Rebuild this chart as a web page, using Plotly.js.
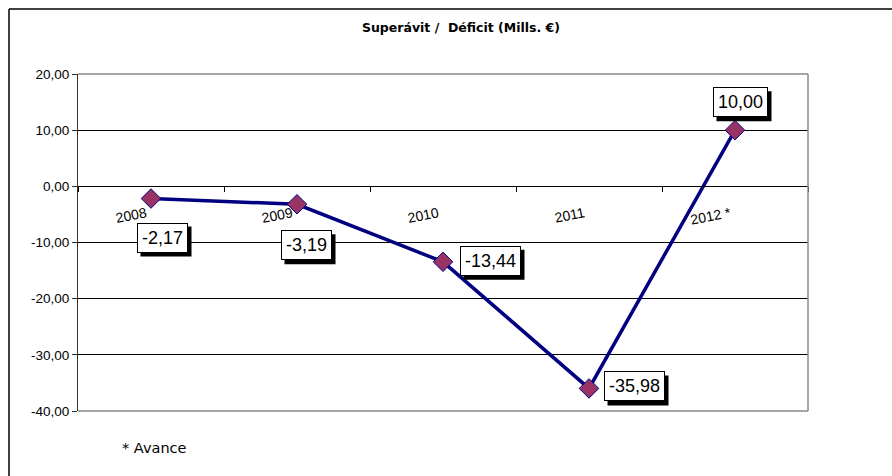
<!DOCTYPE html>
<html>
<head>
<meta charset="utf-8">
<script src="https://cdn.plot.ly/plotly-3.0.1.min.js"></script>
<style>html,body{margin:0;padding:0;background:#fff;}#chart{width:892px;height:476px;}</style>
</head>
<body>
<div id="chart"></div>
<script>
// ---- data ----
const years = ['2008', '2009', '2010', '2011', '2012 *'];
const balance = [-2.17, -3.19, -13.44, -35.98, 10.00];
const yTicks = [-40, -30, -20, -10, 0, 10, 20];
const chartTitle = 'Superávit /  Déficit (Mills. €)';
const footNote = '* Avance';

// ---- label placement (pixel offsets, style only) ----
const labelShift = [[11, -39], [9, -41], [47, 1], [45, 2], [5, 28]];

function fmt(v) { return v.toFixed(2).replace('.', ','); }

// approximate text width of a label in Liberation Sans at given size
function textWidth(s, size) {
  let w = 0;
  for (const c of s) {
    if (c === ',' ) w += 0.278;
    else if (c === '-') w += 0.333;
    else w += 0.556;
  }
  return w * size;
}

const LBL_SIZE = 18, PAD = 3, BW = 1, BOX_H = 22, SH = 4;
const labelFont = {family: 'Liberation Sans, Arial, sans-serif', size: LBL_SIZE, color: '#000'};
const annotations = [];
const shadowShapes = [];
balance.forEach((v, i) => {
  const txt = fmt(v);
  const w = Math.round(textWidth(txt, LBL_SIZE) + 2);
  const outerW = w + 2 * (PAD + BW);
  const outerH = BOX_H + 2 * (PAD + BW);
  const sx = labelShift[i][0], sy = labelShift[i][1];
  // drop shadow (black box offset right/down)
  shadowShapes.push({
    type: 'rect', layer: 'above',
    xref: 'x', xsizemode: 'pixel', xanchor: i,
    x0: sx - outerW / 2 + SH, x1: sx + outerW / 2 + SH,
    yref: 'y', ysizemode: 'pixel', yanchor: v,
    y0: sy - outerH / 2 - SH, y1: sy + outerH / 2 - SH,
    fillcolor: '#000', line: {width: 0}
  });
  annotations.push({
    x: i, y: v, xref: 'x', yref: 'y', showarrow: false,
    text: txt, width: w, height: BOX_H, align: 'center', valign: 'middle',
    borderpad: PAD, borderwidth: BW,
    xshift: sx, yshift: sy,
    bgcolor: '#fff', bordercolor: '#000', font: labelFont
  });
});
annotations.push({
  xref: 'paper', yref: 'paper', x: 0.0575, y: -0.11, xanchor: 'left', yanchor: 'middle',
  showarrow: false, text: footNote,
  font: {family: 'DejaVu Sans, Verdana, sans-serif', size: 14.5, color: '#000'}
});

const trace = {
  type: 'scatter', mode: 'lines+markers',
  x: years, y: balance,
  line: {color: '#000080', width: 3.5},
  marker: {symbol: 'diamond', size: 15, color: '#993366', line: {color: '#000080', width: 1}},
  hoverinfo: 'skip', cliponaxis: false
};

const layout = {
  width: 892, height: 476,
  margin: {l: 78, r: 84, t: 74, b: 65},
  paper_bgcolor: '#fff', plot_bgcolor: '#fff',
  showlegend: false,
  separators: ',.',
  font: {family: 'Liberation Sans, Arial, sans-serif', color: '#000'},
  title: {
    text: '<b>' + chartTitle + '</b>',
    x: 461 / 892, xref: 'container', xanchor: 'center',
    y: 1 - 28 / 476, yref: 'container', yanchor: 'middle',
    font: {family: 'DejaVu Sans, Verdana, sans-serif', size: 12.5, color: '#000'}
  },
  xaxis: {
    type: 'category', range: [-0.5, 4.5],
    anchor: 'free', position: 40 / 60,
    showline: true, linecolor: '#000', linewidth: 1,
    showgrid: false, zeroline: false,
    ticks: 'outside', tickson: 'boundaries', ticklen: 5, tickcolor: '#000',
    tickangle: -11, ticklabelstandoff: 13, ticklabelshift: -5,
    tickfont: {family: 'Liberation Sans, Arial, sans-serif', size: 14, color: '#000'},
    fixedrange: true
  },
  yaxis: {
    range: [-40, 20], tickvals: yTicks, ticktext: yTicks.map(fmt),
    showline: true, linecolor: '#333', linewidth: 1,
    showgrid: true, gridcolor: '#000', gridwidth: 1,
    zeroline: false,
    ticks: 'outside', ticklen: 5, tickcolor: '#333',
    tickfont: {family: 'Liberation Sans, Arial, sans-serif', size: 13.5, color: '#000'},
    fixedrange: true
  },
  shapes: [
    {type: 'line', xref: 'paper', yref: 'paper', x0: 0, x1: 1, y0: 1, y1: 1, line: {color: '#888', width: 1.5}, layer: 'above'},
    {type: 'line', xref: 'paper', yref: 'paper', x0: 1, x1: 1, y0: 0, y1: 1, line: {color: '#888', width: 1.5}, layer: 'above'},
    {type: 'line', xref: 'paper', yref: 'paper', x0: 0, x1: 1, y0: 0, y1: 0, line: {color: '#888', width: 1.5}, layer: 'above'},
    {type: 'line', xref: 'paper', yref: 'paper', x0: -0.0945, x1: -0.0945, y0: 1.1929, y1: -0.4, line: {color: '#000', width: 1.5}, layer: 'above'},
    {type: 'line', xref: 'paper', yref: 'paper', x0: -0.0945, x1: 1.3, y0: 1.1929, y1: 1.1929, line: {color: '#000', width: 1.5}, layer: 'above'}
  ].concat(shadowShapes),
  annotations: annotations
};

Plotly.newPlot('chart', [trace], layout, {displayModeBar: false, staticPlot: true});
</script>
</body>
</html>
